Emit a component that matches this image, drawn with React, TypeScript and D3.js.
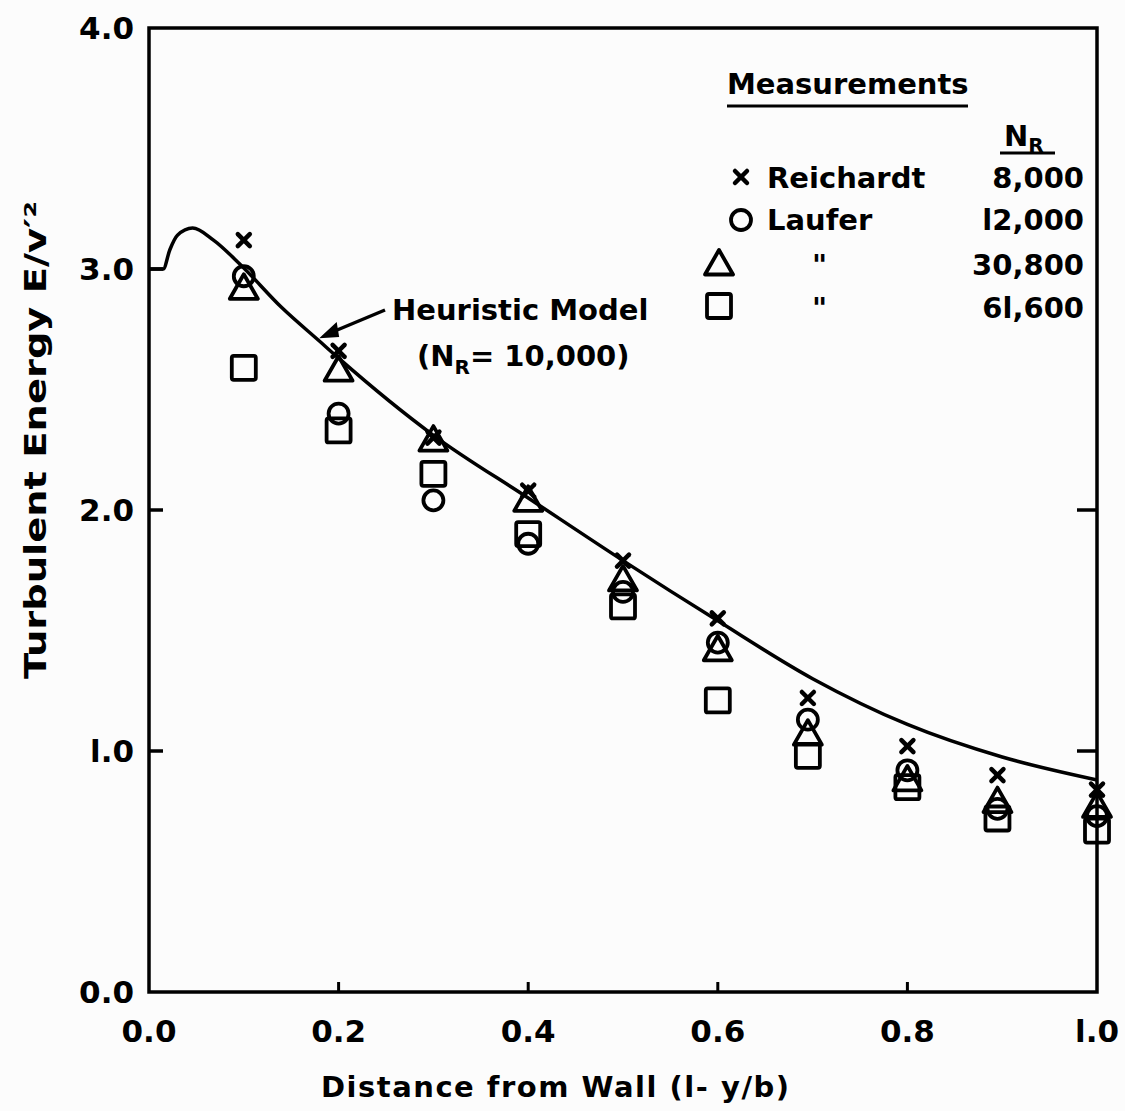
import React from "react";
import * as d3 from "d3";

const xTicks = [0, 0.2, 0.4, 0.6, 0.8, 1.0];
const xTickLabels = ["0.0", "0.2", "0.4", "0.6", "0.8", "l.0"];
const yTicks = [0, 1, 2, 3, 4];
const yTickLabels = ["0.0", "l.0", "2.0", "3.0", "4.0"];

const modelX = [0, 0.015, 0.022, 0.03, 0.046, 0.068, 0.096, 0.14, 0.18, 0.2, 0.3, 0.4, 0.5, 0.6, 0.7, 0.8, 0.9, 1.0];
const modelY = [3.0, 3.0, 3.08, 3.14, 3.17, 3.12, 3.02, 2.84, 2.70, 2.63, 2.31, 2.05, 1.79, 1.54, 1.30, 1.11, 0.975, 0.88];

const posX = [0.1, 0.2, 0.3, 0.4, 0.5, 0.6, 0.695, 0.8, 0.895, 1.0];
const reichardt = [3.12, 2.66, 2.3, 2.08, 1.79, 1.55, 1.22, 1.02, 0.9, 0.84];
const laufer12 = [2.97, 2.4, 2.04, 1.86, 1.66, 1.45, 1.13, 0.92, 0.76, 0.73];
const laufer30 = [2.92, 2.58, 2.29, 2.04, 1.71, 1.42, 1.07, 0.88, 0.79, 0.77];
const laufer61 = [2.59, 2.33, 2.15, 1.9, 1.6, 1.21, 0.98, 0.85, 0.72, 0.67];

const FONT = "'DejaVu Sans', 'Liberation Sans', sans-serif";
const W = 1125, H = 1111;

function Cross({ x, y, s = 7 }: { x: number; y: number; s?: number }) {
  return (
    <g stroke="#000" strokeWidth={4.5} strokeLinecap="round">
      <line x1={x - s} y1={y - s} x2={x + s} y2={y + s} />
      <line x1={x - s} y1={y + s} x2={x + s} y2={y - s} />
    </g>
  );
}
function Circ({ x, y }: { x: number; y: number }) {
  return <circle cx={x} cy={y} r={10} fill="none" stroke="#000" strokeWidth={3.8} />;
}
function Tri({ x, y }: { x: number; y: number }) {
  const s = 14;
  return (
    <path d={`M${x},${y - s}L${x + s},${y + s * 0.75}L${x - s},${y + s * 0.75}Z`} fill="none" stroke="#000" strokeWidth={3.8} strokeLinejoin="round" />
  );
}
function Sq({ x, y }: { x: number; y: number }) {
  const s = 12;
  return <rect x={x - s} y={y - s} width={2 * s} height={2 * s} rx={2} fill="none" stroke="#000" strokeWidth={3.8} />;
}

export default function App() {
  const x = d3.scaleLinear().domain([0, 1]).range([149, 1097]);
  const y = d3.scaleLinear().domain([0, 4]).range([992, 28]);
  const pts: [number, number][] = modelX.map((v, i) => [v, modelY[i]]);
  const line = d3.line<[number, number]>().x(d => x(d[0])).y(d => y(d[1])).curve(d3.curveMonotoneX);

  return (
    <svg width={W} height={H} style={{ position: "absolute", left: 0, top: 0, background: "#fff" }} fontFamily={FONT}>
      <rect x={0} y={0} width={W} height={H} fill="#fcfcfc" />
      {/* frame */}
      <rect x={x(0)} y={y(4)} width={x(1) - x(0)} height={y(0) - y(4)} fill="none" stroke="#000" strokeWidth={3.5} />
      {/* y ticks inward */}
      {[1, 2, 3].map(t => (
        <line key={"ytl" + t} x1={x(0)} x2={x(0) + 14} y1={y(t)} y2={y(t)} stroke="#000" strokeWidth={3.5} />
      ))}
      {[1, 2].map(t => (
        <line key={"ytr" + t} x1={x(1)} x2={x(1) - 20} y1={y(t)} y2={y(t)} stroke="#000" strokeWidth={3.5} />
      ))}
      {[0.2, 0.4, 0.6, 0.8].map(t => (
        <line key={"xt" + t} x1={x(t)} x2={x(t)} y1={y(0)} y2={y(0) - 10} stroke="#000" strokeWidth={3} />
      ))}
      {/* tick labels */}
      {xTicks.map((t, i) => (
        <text key={"xl" + i} x={x(t)} y={1042} textAnchor="middle" fontSize={31} fontWeight="bold">{xTickLabels[i]}</text>
      ))}
      {yTicks.map((t, i) => (
        <text key={"yl" + i} x={134} y={y(t) + 11} textAnchor="end" fontSize={31} fontWeight="bold">{yTickLabels[i]}</text>
      ))}
      {/* axis titles */}
      <text x={555} y={1097} textAnchor="middle" fontSize={29} fontWeight="bold" textLength={468} lengthAdjust="spacing">Distance  from Wall  (l- y/b)</text>
      <text transform={`translate(46,440) rotate(-90)`} textAnchor="middle" fontSize={30} fontWeight="bold" textLength={478} lengthAdjust="spacingAndGlyphs">Turbulent Energy  E/v′²</text>

      {/* model curve */}
      <path d={line(pts) || ""} fill="none" stroke="#000" strokeWidth={3.5} />

      {/* markers */}
      {posX.map((px, i) => <Sq key={"s" + i} x={x(px)} y={y(laufer61[i])} />)}
      {posX.map((px, i) => <Circ key={"c" + i} x={x(px)} y={y(laufer12[i])} />)}
      {posX.map((px, i) => <Tri key={"t" + i} x={x(px)} y={y(laufer30[i])} />)}
      {posX.map((px, i) => <Cross key={"x" + i} x={x(px)} y={y(reichardt[i])} s={6} />)}

      {/* annotation */}
      <line x1={385} y1={310} x2={330} y2={333} stroke="#000" strokeWidth={3.5} />
      <path d="M322,337 L336,324 L338,336 Z" fill="#000" stroke="#000" strokeWidth={2} />
      <text x={392} y={320} fontSize={29} fontWeight="bold">Heuristic  Model</text>
      <text x={417} y={366} fontSize={29} fontWeight="bold">
        (N<tspan fontSize={20} dy={8}>R</tspan><tspan dy={-8}>= 10,000)</tspan>
      </text>

      {/* legend */}
      <text x={727} y={94} fontSize={29} fontWeight="bold">Measurements</text>
      <line x1={727} x2={968} y1={106} y2={106} stroke="#000" strokeWidth={3} />
      <text x={1004} y={146} fontSize={29} fontWeight="bold">N<tspan fontSize={20} dy={6}>R</tspan></text>
      <line x1={1000} x2={1055} y1={153} y2={153} stroke="#000" strokeWidth={3} />
      <Cross x={741} y={177} s={6} />
      <text x={767} y={188} fontSize={29} fontWeight="bold">Reichardt</text>
      <text x={1084} y={188} textAnchor="end" fontSize={29} fontWeight="bold">8,000</text>
      <Circ x={741} y={220} />
      <text x={767} y={230} fontSize={29} fontWeight="bold">Laufer</text>
      <text x={1084} y={230} textAnchor="end" fontSize={29} fontWeight="bold">l2,000</text>
      <Tri x={719} y={264} />
      <text x={812} y={275} fontSize={29} fontWeight="bold">"</text>
      <text x={1084} y={275} textAnchor="end" fontSize={29} fontWeight="bold">30,800</text>
      <Sq x={719} y={306} />
      <text x={812} y={318} fontSize={29} fontWeight="bold">"</text>
      <text x={1084} y={318} textAnchor="end" fontSize={29} fontWeight="bold">6l,600</text>
    </svg>
  );
}
